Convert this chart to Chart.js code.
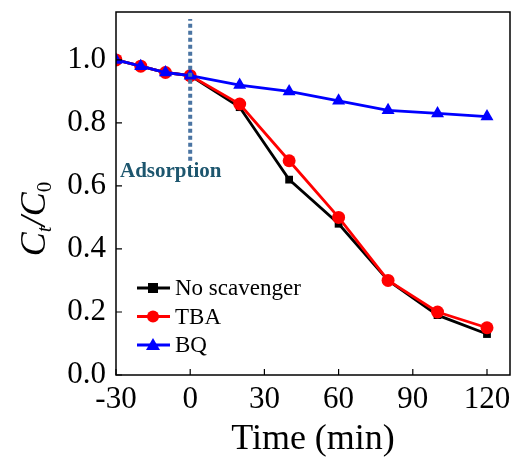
<!DOCTYPE html>
<html>
<head>
<meta charset="utf-8">
<script src="https://cdn.jsdelivr.net/npm/chart.js@4"></script>
<style>
  body { margin: 0; background: #fff; }
  #wrap { width: 518px; height: 461px; }
</style>
</head>
<body>
<div id="wrap"><canvas id="chart" width="518" height="461"></canvas></div>
<script>
// time points (min) and C/C0
const time = [-30, -20, -10, 0, 20, 40, 60, 80, 100, 120];
const noScavenger = [1.0, 0.98, 0.96, 0.95, 0.85, 0.62, 0.48, 0.30, 0.19, 0.13];
const tba = [1.0, 0.98, 0.96, 0.95, 0.86, 0.68, 0.50, 0.30, 0.20, 0.15];
const bq = [1.0, 0.98, 0.96, 0.95, 0.92, 0.90, 0.87, 0.84, 0.83, 0.82];
const xTicks = [-30, 0, 30, 60, 90, 120];
const yTicks = [0.0, 0.2, 0.4, 0.6, 0.8, 1.0];
const adsorptionLine = [0.68, 1.13];

const serif = "'Liberation Serif', 'Times New Roman', serif";

function pts(ys) {
  return ys.map(function (y, i) { return { x: time[i], y: y }; });
}

// frame, inward ticks, legend, annotations
const decor = {
  id: 'decor',
  afterDatasetsDraw(chart) {
    const ctx = chart.ctx;
    const a = chart.chartArea;
    const xs = chart.scales.x, ys = chart.scales.y;
    ctx.save();
    ctx.strokeStyle = '#000';
    ctx.lineWidth = 1.5;
    ctx.strokeRect(a.left, a.top, a.right - a.left, a.bottom - a.top);
    ctx.lineWidth = 1.2;
    ctx.beginPath();
    yTicks.forEach(function (v) {
      const p = ys.getPixelForValue(v);
      ctx.moveTo(a.left, p); ctx.lineTo(a.left + 6, p);
    });
    xTicks.forEach(function (v) {
      const p = xs.getPixelForValue(v);
      ctx.moveTo(p, a.bottom); ctx.lineTo(p, a.bottom - 6);
    });
    ctx.stroke();

    // Adsorption label
    ctx.fillStyle = '#1d566e';
    ctx.font = 'bold 21px ' + serif;
    ctx.textAlign = 'left';
    ctx.textBaseline = 'middle';
    ctx.fillText('Adsorption', a.left + 4, ys.getPixelForValue(0.645));

    // legend
    const items = [
      { label: 'No scavenger', color: '#000', shape: 'rect' },
      { label: 'TBA', color: '#ff0000', shape: 'circle' },
      { label: 'BQ', color: '#0000ff', shape: 'triangle' }
    ];
    ctx.font = '23px ' + serif;
    items.forEach(function (it, i) {
      const y = 288 + i * 28.5;
      ctx.strokeStyle = it.color;
      ctx.fillStyle = it.color;
      ctx.lineWidth = 3;
      ctx.beginPath();
      ctx.moveTo(137, y); ctx.lineTo(170, y);
      ctx.stroke();
      ctx.beginPath();
      if (it.shape === 'rect') ctx.rect(148, y - 5, 10, 10);
      else if (it.shape === 'circle') ctx.arc(153, y, 6, 0, Math.PI * 2);
      else { ctx.moveTo(153, y - 7); ctx.lineTo(160, y + 5); ctx.lineTo(146, y + 5); ctx.closePath(); }
      ctx.fill();
      ctx.fillStyle = '#000';
      ctx.fillText(it.label, 175, y + 1);
    });

    // y title C_t/C_0
    ctx.translate(32, 219);
    ctx.rotate(-Math.PI / 2);
    ctx.fillStyle = '#000';
    ctx.textBaseline = 'alphabetic';
    const big = 'italic 36px ' + serif, small = 'italic 21px ' + serif, smallUp = '21px ' + serif;
    const parts = [
      { t: 'C', f: big, dy: 0 },
      { t: 't', f: small, dy: 6 },
      { t: '/', f: big, dy: 0 },
      { t: 'C', f: big, dy: 0 },
      { t: '0', f: smallUp, dy: 6 }
    ];
    let w = 0;
    parts.forEach(function (p) { ctx.font = p.f; w += ctx.measureText(p.t).width; });
    let x = -w / 2;
    parts.forEach(function (p) {
      ctx.font = p.f;
      ctx.fillText(p.t, x, 13 + p.dy);
      x += ctx.measureText(p.t).width;
    });
    ctx.restore();
  }
};

new Chart(document.getElementById('chart'), {
  type: 'line',
  data: {
    datasets: [
      {
        label: 'adsorption',
        data: [{ x: 0, y: adsorptionLine[0] }, { x: 0, y: adsorptionLine[1] }],
        borderColor: '#4a74a2',
        borderWidth: 4,
        borderDash: [4, 3],
        pointRadius: 0,
        order: 0
      },
      {
        label: 'No scavenger',
        data: pts(noScavenger),
        borderColor: '#000',
        backgroundColor: '#000',
        borderWidth: 2.8,
        pointStyle: 'rect',
        pointRadius: 5.5,
        pointBorderWidth: 0,
        order: 3
      },
      {
        label: 'TBA',
        data: pts(tba),
        borderColor: '#ff0000',
        backgroundColor: '#ff0000',
        borderWidth: 2.8,
        pointStyle: 'circle',
        pointRadius: 6.5,
        pointBorderWidth: 0,
        order: 2
      },
      {
        label: 'BQ',
        data: pts(bq),
        borderColor: '#0000ff',
        backgroundColor: '#0000ff',
        borderWidth: 2.8,
        pointStyle: 'triangle',
        pointRadius: 7.5,
        pointBorderWidth: 0,
        order: 1
      }
    ]
  },
  options: {
    responsive: false,
    animation: false,
    layout: { padding: { left: 0, right: 8, top: 12, bottom: 0 } },
    plugins: { legend: { display: false }, tooltip: { enabled: false } },
    scales: {
      x: {
        type: 'linear',
        min: -30,
        max: 129.3,
        afterBuildTicks(s) { s.ticks = xTicks.map(function (v) { return { value: v }; }); },
        afterFit(s) { s.height = 86; s.paddingLeft = 0; s.paddingRight = 0; },
        grid: { display: false },
        border: { display: false },
        ticks: {
          color: '#000',
          font: { family: serif, size: 31 },
          padding: -2,
          maxRotation: 0,
          callback: function (v) { return String(v); }
        },
        title: {
          display: true,
          text: 'Time (min)',
          color: '#000',
          font: { family: serif, size: 36 },
          padding: { top: 0, bottom: 0 }
        }
      },
      y: {
        min: 0,
        max: 1.152,
        afterBuildTicks(s) { s.ticks = yTicks.map(function (v) { return { value: v }; }); },
        afterFit(s) { s.width = 116; s.paddingTop = 0; s.paddingBottom = 0; },
        grid: { display: false },
        border: { display: false },
        ticks: {
          color: '#000',
          font: { family: serif, size: 31 },
          padding: 2,
          callback: function (v) { return v.toFixed(1); }
        }
      }
    }
  },
  plugins: [decor]
});
</script>
</body>
</html>
